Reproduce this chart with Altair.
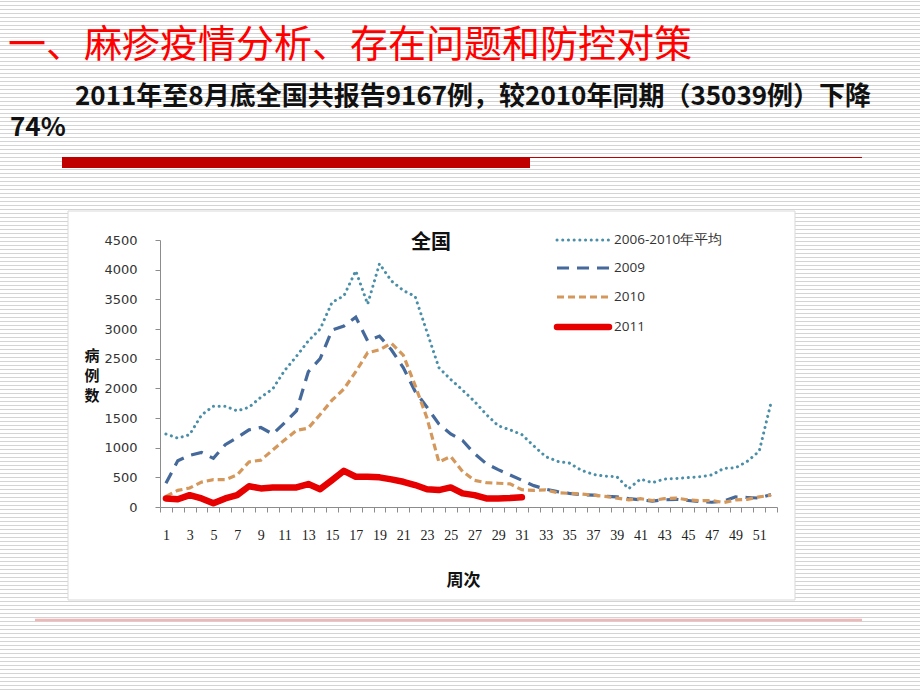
import altair as alt
import pandas as pd

# ---------------- data ----------------
weeks = list(range(1, 53))
series_names = ["2006-2010年平均", "2009", "2010", "2011"]

avg_0610 = [1230, 1160, 1220, 1550, 1700, 1700, 1620, 1680, 1850, 1990,
            2300, 2540, 2800, 3000, 3450, 3560, 3980, 3420, 4100, 3810,
            3650, 3550, 2950, 2350, 2150, 1970, 1780, 1560, 1370, 1300,
            1220, 1030, 850, 770, 740, 620, 550, 520, 510, 310,
            470, 410, 470, 480, 495, 510, 540, 650, 660, 770,
            940, 1760]
y2009 = [400, 780, 870, 920, 820, 1050, 1170, 1300, 1340, 1230,
         1420, 1620, 2280, 2500, 2980, 3050, 3200, 2800, 2880, 2650,
         2350, 1950, 1680, 1400, 1230, 1120, 900, 730, 630, 540,
         450, 360, 300, 260, 230, 210, 200, 180, 170, 140,
         120, 100, 120, 130, 110, 90, 80, 100, 170, 160,
         150, 210]
y2010 = [180, 280, 320, 420, 460, 460, 540, 760, 790, 960,
         1130, 1290, 1330, 1560, 1800, 1990, 2280, 2600, 2650, 2760,
         2560, 2050, 1500, 760, 850, 600, 450, 410, 400, 390,
         290, 280, 290, 240, 230, 220, 200, 180, 150, 120,
         140, 110, 140, 150, 120, 105, 110, 75, 120, 130,
         170, 200]
y2011 = [145, 130, 200, 145, 62, 145, 200, 350, 313, 330,
         330, 330, 386, 300, 453, 610, 510, 510, 500, 465,
         425, 370, 300, 285, 330, 230, 200, 145, 145, 150,
         165]

y_ticks = list(range(0, 4501, 500))

page_title = "一、麻疹疫情分析、存在问题和防控对策"
subtitle = "2011年至8月底全国共报告9167例，较2010年同期（35039例）下降"
subtitle2 = "74%"
chart_title = "全国"

rows = []
for name, vals in zip(series_names, [avg_0610, y2009, y2010, y2011]):
    for w, v in zip(weeks, vals):
        rows.append({"week": w, "cases": v, "series": name})
df = pd.DataFrame(rows)

# ---------------- layout ----------------
W, H = 617, 267
LEFT, TOP = 160, 240
RIGHT, BOTTOM = 920 - LEFT - W, 690 - TOP - H

styles = {
    "2006-2010年平均": dict(color="#4A8EA8", strokeWidth=3, strokeDash=[0.1, 5.6], strokeCap="round"),
    "2009": dict(color="#44699A", strokeWidth=3.2, strokeDash=[12, 8], strokeCap="butt"),
    "2010": dict(color="#D4985C", strokeWidth=3.2, strokeDash=[7, 4], strokeCap="butt"),
    "2011": dict(color="#E60000", strokeWidth=6.5, strokeCap="round", strokeJoin="round"),
}

one = pd.DataFrame({"a": [0]})

x_enc = alt.X(
    "week:O",
    bandPosition=0.5,
    scale=alt.Scale(type="band", paddingInner=0, paddingOuter=0),
    axis=alt.Axis(
        title="周次", titleFont="Noto Sans CJK SC", titleFontSize=17, titleFontWeight="bold",
        titleColor="#111", titleX=303, titleY=73, titleBaseline="middle", titleAlign="center",
        labelExpr="datum.value % 2 == 1 ? datum.label : ''",
        labelAngle=0, labelFont="Liberation Serif", labelFontSize=14, labelColor="#222",
        labelPadding=16, tickBand="extent", tickSize=5, tickColor="#8c8c8c",
        domainColor="#8c8c8c", grid=False, zindex=1,
    ),
)
y_enc = alt.Y(
    "cases:Q",
    scale=alt.Scale(domain=[0, 4500], nice=False, zero=True),
    axis=alt.Axis(
        values=y_ticks, format="d", title=None,
        labelFont="DejaVu Sans", labelFontSize=13, labelColor="#333", labelPadding=18,
        tickSize=5, tickColor="#8c8c8c", domainColor="#8c8c8c", grid=False, zindex=1,
    ),
)

base = alt.Chart(df).encode(x=x_enc, y=y_enc)
line_layers = []
for name in series_names:
    st = styles[name]
    line_layers.append(
        base.transform_filter(alt.datum.series == name).mark_line(**st)
    )

# background stripes of the slide
stripes = (
    alt.Chart(alt.sequence(0, 690, 4, as_="k"))
    .transform_calculate(py=f"datum.k + 1.5 - {TOP}")
    .mark_rule(color="#d4d4d4", strokeWidth=1)
    .encode(y=alt.Y("py:Q", scale=None, axis=None), x=alt.value(-LEFT), x2=alt.value(920 - LEFT))
)

box = alt.Chart(one).mark_rect(fill="white", stroke="#d9d9d9", strokeWidth=1).encode(
    x=alt.value(68 - LEFT), x2=alt.value(795 - LEFT), y=alt.value(211 - TOP), y2=alt.value(600 - TOP)
)
red_bar = alt.Chart(one).mark_rect(fill="#C00000").encode(
    x=alt.value(62 - LEFT), x2=alt.value(530 - LEFT), y=alt.value(157 - TOP), y2=alt.value(168 - TOP)
)
red_thin = alt.Chart(one).mark_rule(color="#C00000", strokeWidth=1).encode(
    x=alt.value(530 - LEFT), x2=alt.value(862 - LEFT), y=alt.value(157.5 - TOP)
)
pink_line = alt.Chart(one).mark_rule(color="#F2B6B6", strokeWidth=2.5).encode(
    x=alt.value(35 - LEFT), x2=alt.value(862 - LEFT), y=alt.value(620 - TOP)
)

title_txt = alt.Chart(one).mark_text(
    align="left", baseline="middle", font="Noto Sans CJK SC", fontSize=38, color="#FF0000"
).encode(x=alt.value(8 - LEFT), y=alt.value(46 - TOP), text=alt.value(page_title))

sub_txt = alt.Chart(one).mark_text(
    align="left", baseline="middle", font="Noto Sans CJK SC", fontSize=26, fontWeight="bold", color="#111"
).encode(x=alt.value(75 - LEFT), y=alt.value(97 - TOP), text=alt.value(subtitle))

sub2_txt = alt.Chart(one).mark_text(
    align="left", baseline="middle", font="Noto Sans CJK SC", fontSize=26, fontWeight="bold", color="#111"
).encode(x=alt.value(10 - LEFT), y=alt.value(128 - TOP), text=alt.value(subtitle2))

ctitle = alt.Chart(one).mark_text(
    align="center", baseline="middle", font="Noto Sans CJK SC", fontSize=20, fontWeight="bold", color="#111"
).encode(x=alt.value(431 - LEFT), y=alt.value(243 - TOP), text=alt.value(chart_title))

# vertical y-axis title, one character per line
ytitle_layers = []
for ch, cy in zip(["病", "例", "数"], [356, 376, 396]):
    ytitle_layers.append(
        alt.Chart(one).mark_text(
            align="center", baseline="middle", font="Noto Sans CJK SC", fontSize=15,
            fontWeight="bold", color="#111"
        ).encode(x=alt.value(92 - LEFT), y=alt.value(cy - TOP), text=alt.value(ch))
    )

legend_layers = []
leg_rows = [240, 268, 297, 327]
for name, ry in zip(series_names, leg_rows):
    st = dict(styles[name])
    color = st.pop("color")
    st.pop("strokeJoin", None)
    legend_layers.append(
        alt.Chart(one).mark_rule(color=color, **st).encode(
            x=alt.value(557 - LEFT), x2=alt.value(609 - LEFT), y=alt.value(ry - TOP)
        )
    )
    legend_layers.append(
        alt.Chart(one).mark_text(
            align="left", baseline="middle", font="Open Sans", fontSize=13.5, color="#333"
        ).encode(x=alt.value(614 - LEFT), y=alt.value(ry - TOP), text=alt.value(name))
    )

chart = alt.layer(
    stripes, box, red_bar, red_thin, pink_line, title_txt, sub_txt, sub2_txt,
    *line_layers, ctitle, *ytitle_layers, *legend_layers,
).properties(
    width=W, height=H,
    padding={"left": LEFT, "top": TOP, "right": RIGHT, "bottom": BOTTOM},
    autosize=alt.AutoSizeParams(type="none"),
    background="white",
).configure_view(stroke=None)

chart.save("out.html", embed_options={"renderer": "svg", "actions": False})
